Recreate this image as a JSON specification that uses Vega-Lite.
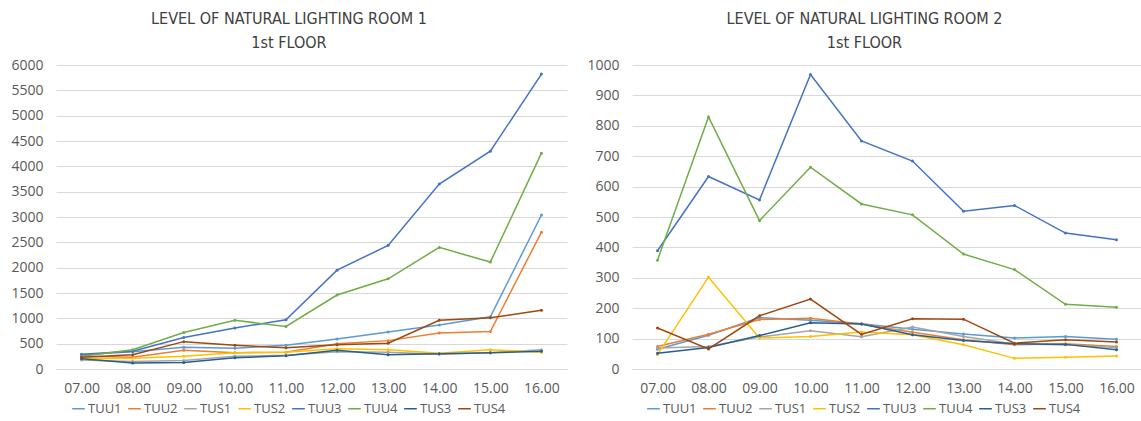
{
  "$schema": "https://vega.github.io/schema/vega-lite/v6.json",
  "background": "white",
  "padding": {"left": 10, "top": 11, "right": 0, "bottom": 0},
  "datasets": {
    "room1": [
      {"hour": "07.00", "sensor": "TUU1", "lux": 280}, {"hour": "08.00", "sensor": "TUU1", "lux": 340}, {"hour": "09.00", "sensor": "TUU1", "lux": 430}, {"hour": "10.00", "sensor": "TUU1", "lux": 410}, {"hour": "11.00", "sensor": "TUU1", "lux": 470}, {"hour": "12.00", "sensor": "TUU1", "lux": 590}, {"hour": "13.00", "sensor": "TUU1", "lux": 730}, {"hour": "14.00", "sensor": "TUU1", "lux": 870}, {"hour": "15.00", "sensor": "TUU1", "lux": 1030}, {"hour": "16.00", "sensor": "TUU1", "lux": 3040},
      {"hour": "07.00", "sensor": "TUU2", "lux": 250}, {"hour": "08.00", "sensor": "TUU2", "lux": 230}, {"hour": "09.00", "sensor": "TUU2", "lux": 370}, {"hour": "10.00", "sensor": "TUU2", "lux": 320}, {"hour": "11.00", "sensor": "TUU2", "lux": 330}, {"hour": "12.00", "sensor": "TUU2", "lux": 500}, {"hour": "13.00", "sensor": "TUU2", "lux": 560}, {"hour": "14.00", "sensor": "TUU2", "lux": 710}, {"hour": "15.00", "sensor": "TUU2", "lux": 740}, {"hour": "16.00", "sensor": "TUU2", "lux": 2700},
      {"hour": "07.00", "sensor": "TUS1", "lux": 180}, {"hour": "08.00", "sensor": "TUS1", "lux": 150}, {"hour": "09.00", "sensor": "TUS1", "lux": 170}, {"hour": "10.00", "sensor": "TUS1", "lux": 250}, {"hour": "11.00", "sensor": "TUS1", "lux": 270}, {"hour": "12.00", "sensor": "TUS1", "lux": 340}, {"hour": "13.00", "sensor": "TUS1", "lux": 330}, {"hour": "14.00", "sensor": "TUS1", "lux": 290}, {"hour": "15.00", "sensor": "TUS1", "lux": 320}, {"hour": "16.00", "sensor": "TUS1", "lux": 380},
      {"hour": "07.00", "sensor": "TUS2", "lux": 200}, {"hour": "08.00", "sensor": "TUS2", "lux": 210}, {"hour": "09.00", "sensor": "TUS2", "lux": 250}, {"hour": "10.00", "sensor": "TUS2", "lux": 320}, {"hour": "11.00", "sensor": "TUS2", "lux": 330}, {"hour": "12.00", "sensor": "TUS2", "lux": 400}, {"hour": "13.00", "sensor": "TUS2", "lux": 380}, {"hour": "14.00", "sensor": "TUS2", "lux": 310}, {"hour": "15.00", "sensor": "TUS2", "lux": 380}, {"hour": "16.00", "sensor": "TUS2", "lux": 330},
      {"hour": "07.00", "sensor": "TUU3", "lux": 290}, {"hour": "08.00", "sensor": "TUU3", "lux": 350}, {"hour": "09.00", "sensor": "TUU3", "lux": 620}, {"hour": "10.00", "sensor": "TUU3", "lux": 810}, {"hour": "11.00", "sensor": "TUU3", "lux": 970}, {"hour": "12.00", "sensor": "TUU3", "lux": 1950}, {"hour": "13.00", "sensor": "TUU3", "lux": 2440}, {"hour": "14.00", "sensor": "TUU3", "lux": 3650}, {"hour": "15.00", "sensor": "TUU3", "lux": 4300}, {"hour": "16.00", "sensor": "TUU3", "lux": 5820},
      {"hour": "07.00", "sensor": "TUU4", "lux": 250}, {"hour": "08.00", "sensor": "TUU4", "lux": 380}, {"hour": "09.00", "sensor": "TUU4", "lux": 720}, {"hour": "10.00", "sensor": "TUU4", "lux": 960}, {"hour": "11.00", "sensor": "TUU4", "lux": 840}, {"hour": "12.00", "sensor": "TUU4", "lux": 1460}, {"hour": "13.00", "sensor": "TUU4", "lux": 1780}, {"hour": "14.00", "sensor": "TUU4", "lux": 2400}, {"hour": "15.00", "sensor": "TUU4", "lux": 2110}, {"hour": "16.00", "sensor": "TUU4", "lux": 4260},
      {"hour": "07.00", "sensor": "TUS3", "lux": 200}, {"hour": "08.00", "sensor": "TUS3", "lux": 120}, {"hour": "09.00", "sensor": "TUS3", "lux": 130}, {"hour": "10.00", "sensor": "TUS3", "lux": 220}, {"hour": "11.00", "sensor": "TUS3", "lux": 260}, {"hour": "12.00", "sensor": "TUS3", "lux": 370}, {"hour": "13.00", "sensor": "TUS3", "lux": 280}, {"hour": "14.00", "sensor": "TUS3", "lux": 300}, {"hour": "15.00", "sensor": "TUS3", "lux": 320}, {"hour": "16.00", "sensor": "TUS3", "lux": 350},
      {"hour": "07.00", "sensor": "TUS4", "lux": 230}, {"hour": "08.00", "sensor": "TUS4", "lux": 280}, {"hour": "09.00", "sensor": "TUS4", "lux": 540}, {"hour": "10.00", "sensor": "TUS4", "lux": 470}, {"hour": "11.00", "sensor": "TUS4", "lux": 420}, {"hour": "12.00", "sensor": "TUS4", "lux": 480}, {"hour": "13.00", "sensor": "TUS4", "lux": 510}, {"hour": "14.00", "sensor": "TUS4", "lux": 960}, {"hour": "15.00", "sensor": "TUS4", "lux": 1010}, {"hour": "16.00", "sensor": "TUS4", "lux": 1160}
    ],
    "room2": [
      {"hour": "07.00", "sensor": "TUU1", "lux": 65}, {"hour": "08.00", "sensor": "TUU1", "lux": 111}, {"hour": "09.00", "sensor": "TUU1", "lux": 169}, {"hour": "10.00", "sensor": "TUU1", "lux": 160}, {"hour": "11.00", "sensor": "TUU1", "lux": 149}, {"hour": "12.00", "sensor": "TUU1", "lux": 131}, {"hour": "13.00", "sensor": "TUU1", "lux": 115}, {"hour": "14.00", "sensor": "TUU1", "lux": 102}, {"hour": "15.00", "sensor": "TUU1", "lux": 107}, {"hour": "16.00", "sensor": "TUU1", "lux": 98},
      {"hour": "07.00", "sensor": "TUU2", "lux": 74}, {"hour": "08.00", "sensor": "TUU2", "lux": 114}, {"hour": "09.00", "sensor": "TUU2", "lux": 163}, {"hour": "10.00", "sensor": "TUU2", "lux": 167}, {"hour": "11.00", "sensor": "TUU2", "lux": 148}, {"hour": "12.00", "sensor": "TUU2", "lux": 121}, {"hour": "13.00", "sensor": "TUU2", "lux": 96}, {"hour": "14.00", "sensor": "TUU2", "lux": 80}, {"hour": "15.00", "sensor": "TUU2", "lux": 83}, {"hour": "16.00", "sensor": "TUU2", "lux": 74},
      {"hour": "07.00", "sensor": "TUS1", "lux": 69}, {"hour": "08.00", "sensor": "TUS1", "lux": 74}, {"hour": "09.00", "sensor": "TUS1", "lux": 105}, {"hour": "10.00", "sensor": "TUS1", "lux": 126}, {"hour": "11.00", "sensor": "TUS1", "lux": 106}, {"hour": "12.00", "sensor": "TUS1", "lux": 138}, {"hour": "13.00", "sensor": "TUS1", "lux": 107}, {"hour": "14.00", "sensor": "TUS1", "lux": 82}, {"hour": "15.00", "sensor": "TUS1", "lux": 80}, {"hour": "16.00", "sensor": "TUS1", "lux": 71},
      {"hour": "07.00", "sensor": "TUS2", "lux": 47}, {"hour": "08.00", "sensor": "TUS2", "lux": 302}, {"hour": "09.00", "sensor": "TUS2", "lux": 102}, {"hour": "10.00", "sensor": "TUS2", "lux": 107}, {"hour": "11.00", "sensor": "TUS2", "lux": 122}, {"hour": "12.00", "sensor": "TUS2", "lux": 113}, {"hour": "13.00", "sensor": "TUS2", "lux": 80}, {"hour": "14.00", "sensor": "TUS2", "lux": 35}, {"hour": "15.00", "sensor": "TUS2", "lux": 39}, {"hour": "16.00", "sensor": "TUS2", "lux": 43},
      {"hour": "07.00", "sensor": "TUU3", "lux": 389}, {"hour": "08.00", "sensor": "TUU3", "lux": 633}, {"hour": "09.00", "sensor": "TUU3", "lux": 556}, {"hour": "10.00", "sensor": "TUU3", "lux": 969}, {"hour": "11.00", "sensor": "TUU3", "lux": 750}, {"hour": "12.00", "sensor": "TUU3", "lux": 684}, {"hour": "13.00", "sensor": "TUU3", "lux": 519}, {"hour": "14.00", "sensor": "TUU3", "lux": 538}, {"hour": "15.00", "sensor": "TUU3", "lux": 447}, {"hour": "16.00", "sensor": "TUU3", "lux": 425},
      {"hour": "07.00", "sensor": "TUU4", "lux": 358}, {"hour": "08.00", "sensor": "TUU4", "lux": 829}, {"hour": "09.00", "sensor": "TUU4", "lux": 488}, {"hour": "10.00", "sensor": "TUU4", "lux": 664}, {"hour": "11.00", "sensor": "TUU4", "lux": 543}, {"hour": "12.00", "sensor": "TUU4", "lux": 507}, {"hour": "13.00", "sensor": "TUU4", "lux": 378}, {"hour": "14.00", "sensor": "TUU4", "lux": 327}, {"hour": "15.00", "sensor": "TUU4", "lux": 213}, {"hour": "16.00", "sensor": "TUU4", "lux": 203},
      {"hour": "07.00", "sensor": "TUS3", "lux": 52}, {"hour": "08.00", "sensor": "TUS3", "lux": 71}, {"hour": "09.00", "sensor": "TUS3", "lux": 110}, {"hour": "10.00", "sensor": "TUS3", "lux": 152}, {"hour": "11.00", "sensor": "TUS3", "lux": 148}, {"hour": "12.00", "sensor": "TUS3", "lux": 113}, {"hour": "13.00", "sensor": "TUS3", "lux": 94}, {"hour": "14.00", "sensor": "TUS3", "lux": 83}, {"hour": "15.00", "sensor": "TUS3", "lux": 81}, {"hour": "16.00", "sensor": "TUS3", "lux": 63},
      {"hour": "07.00", "sensor": "TUS4", "lux": 135}, {"hour": "08.00", "sensor": "TUS4", "lux": 66}, {"hour": "09.00", "sensor": "TUS4", "lux": 175}, {"hour": "10.00", "sensor": "TUS4", "lux": 230}, {"hour": "11.00", "sensor": "TUS4", "lux": 114}, {"hour": "12.00", "sensor": "TUS4", "lux": 165}, {"hour": "13.00", "sensor": "TUS4", "lux": 164}, {"hour": "14.00", "sensor": "TUS4", "lux": 85}, {"hour": "15.00", "sensor": "TUS4", "lux": 96}, {"hour": "16.00", "sensor": "TUS4", "lux": 89}
    ]
  },
  "spacing": 19,
  "resolve": {"scale": {"color": "independent", "y": "independent"}, "legend": {"color": "independent"}},
  "hconcat": [
    {
      "width": 511,
      "height": 304,
      "title": {"text": ["LEVEL OF NATURAL LIGHTING ROOM 1", "1st FLOOR"]},
      "data": {"name": "room1"},
      "mark": {"type": "line", "strokeWidth": 1.5, "point": {"size": 9, "filled": true}},
      "encoding": {
        "x": {"field": "hour", "type": "ordinal", "sort": null, "title": null},
        "y": {"field": "lux", "type": "quantitative", "title": null,
              "scale": {"domain": [0, 6000], "nice": false},
              "axis": {"format": "d", "values": [0, 500, 1000, 1500, 2000, 2500, 3000, 3500, 4000, 4500, 5000, 5500, 6000]}},
        "color": {"field": "sensor", "type": "nominal", "title": null,
                  "scale": {"domain": ["TUU1", "TUU2", "TUS1", "TUS2", "TUU3", "TUU4", "TUS3", "TUS4"],
                            "range": ["#5B9BD5", "#ED7D31", "#A5A5A5", "#FFC000", "#4472C4", "#70AD47", "#255E91", "#9E480E"]},
                  "legend": {"orient": "none", "legendX": 15, "legendY": 336}}
      }
    },
    {
      "width": 510,
      "height": 304,
      "title": {"text": ["LEVEL OF NATURAL LIGHTING ROOM 2", "1st FLOOR"]},
      "data": {"name": "room2"},
      "mark": {"type": "line", "strokeWidth": 1.5, "point": {"size": 9, "filled": true}},
      "encoding": {
        "x": {"field": "hour", "type": "ordinal", "sort": null, "title": null},
        "y": {"field": "lux", "type": "quantitative", "title": null,
              "scale": {"domain": [0, 1000], "nice": false},
              "axis": {"format": "d", "values": [0, 100, 200, 300, 400, 500, 600, 700, 800, 900, 1000]}},
        "color": {"field": "sensor", "type": "nominal", "title": null,
                  "scale": {"domain": ["TUU1", "TUU2", "TUS1", "TUS2", "TUU3", "TUU4", "TUS3", "TUS4"],
                            "range": ["#5B9BD5", "#ED7D31", "#A5A5A5", "#FFC000", "#4472C4", "#70AD47", "#255E91", "#9E480E"]},
                  "legend": {"orient": "none", "legendX": 14, "legendY": 336}}
      }
    }
  ],
  "config": {
    "view": {"stroke": null},
    "font": "Open Sans",
    "axis": {"labelFont": "Open Sans", "labelFontSize": 14, "labelColor": "#595959", "ticks": false},
    "axisY": {"domain": false, "gridColor": "#d9d9d9", "labelPadding": 13},
    "axisX": {"grid": false, "domainColor": "#d9d9d9", "labelAngle": 0, "labelPadding": 12},
    "title": {"font": "DejaVu Sans Condensed, Open Sans", "fontSize": 16, "fontWeight": "normal", "color": "#404040", "lineHeight": 24, "frame": "bounds", "offset": 7},
    "legend": {"direction": "horizontal", "labelFont": "Open Sans", "labelFontSize": 13, "labelColor": "#595959",
               "symbolType": "stroke", "symbolSize": 160, "symbolStrokeWidth": 1.5, "labelOffset": 2, "columnPadding": 3}
  }
}
